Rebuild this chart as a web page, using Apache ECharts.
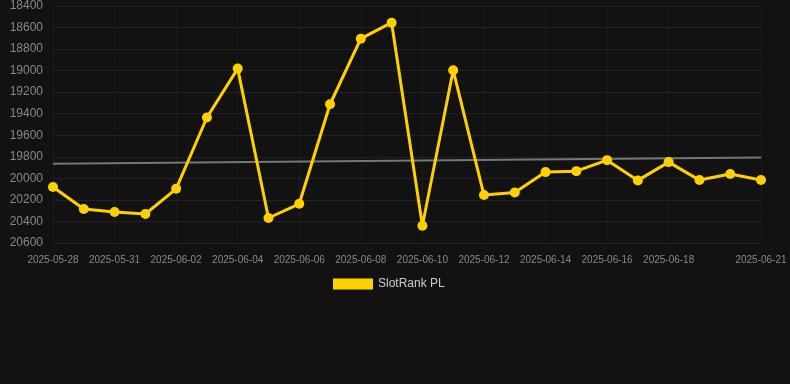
<!DOCTYPE html>
<html>
<head>
<meta charset="utf-8">
<script src="https://cdn.jsdelivr.net/npm/echarts@6/dist/echarts.min.js"></script>
<style>
  html, body { margin: 0; padding: 0; background: #121212; }
  #chart { width: 790px; height: 384px; }
</style>
</head>
<body>
<div id="chart"></div>
<script>
const dates = [
  "2025-05-28", "2025-05-30", "2025-05-31", "2025-06-01", "2025-06-02", "2025-06-03",
  "2025-06-04", "2025-06-05", "2025-06-06", "2025-06-07", "2025-06-08", "2025-06-09",
  "2025-06-10", "2025-06-11", "2025-06-12", "2025-06-13", "2025-06-14", "2025-06-15",
  "2025-06-16", "2025-06-17", "2025-06-18", "2025-06-19", "2025-06-20", "2025-06-21"
];

const rankValues = [
  20080, 20285, 20313, 20331, 20097, 19435,
  18981, 20368, 20236, 19312, 18703, 18555,
  20440, 18996, 20155, 20131, 19942, 19933,
  19831, 20019, 19849, 20016, 19960, 20016
];

// trend line: only the two ends, joined across the gaps
const trendValues = dates.map(() => null);
trendValues[0] = 19865;
trendValues[dates.length - 1] = 19806;

const yTicks = { min: 18400, max: 20600, step: 200 };

const showLabel = (i) => (i % 2 === 0 && i !== dates.length - 2) || i === dates.length - 1;

const chart = echarts.init(document.getElementById("chart"));

const option = {
  backgroundColor: "#121212",
  animation: false,
  textStyle: { fontFamily: "Liberation Sans, Arial, sans-serif" },
  grid: {
    left: 53,
    right: 29,
    top: 6,
    bottom: 141,
  },
  legend: {
    data: ["SlotRank PL"],
    top: 273,
    left: 328,
    icon: "rect",
    itemWidth: 40,
    itemHeight: 11,
    itemGap: 6,
    textStyle: { color: "#cccccc", fontSize: 12 },
  },
  xAxis: {
    type: "category",
    data: dates,
    boundaryGap: false,
    axisLine: { show: false },
    axisTick: { show: false },
    axisLabel: {
      interval: (i) => showLabel(i),
      color: "#888888",
      fontSize: 10,
      margin: 12,
    },
    splitLine: {
      show: true,
      interval: (i) => showLabel(i),
      lineStyle: { color: "#1c1c1c" },
    },
  },
  yAxis: {
    type: "value",
    inverse: true,
    min: yTicks.min,
    max: yTicks.max,
    interval: yTicks.step,
    axisLine: { show: false },
    axisTick: { show: false },
    axisLabel: {
      color: "#888888",
      fontSize: 12,
      margin: 10,
      formatter: (v) => String(v),
    },
    splitLine: { lineStyle: { color: "#222222" } },
  },
  series: [
    {
      name: "Trend",
      type: "line",
      data: trendValues,
      connectNulls: true,
      showSymbol: false,
      symbol: "none",
      lineStyle: { color: "#777777", width: 2 },
      z: 1,
    },
    {
      name: "SlotRank PL",
      type: "line",
      data: rankValues,
      symbol: "circle",
      symbolSize: 10,
      itemStyle: { color: "#ffd000" },
      lineStyle: { color: "#ffd000", width: 3 },
      z: 2,
    },
  ],
};

chart.setOption(option);
</script>
</body>
</html>
